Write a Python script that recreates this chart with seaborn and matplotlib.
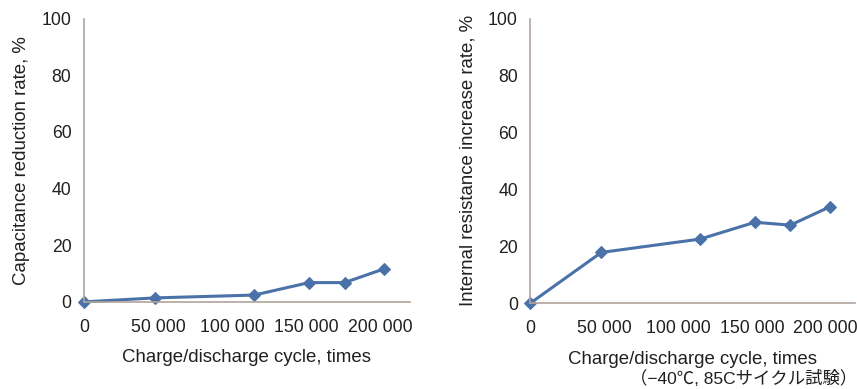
import pandas as pd
import matplotlib.pyplot as plt
import seaborn as sns

# Data
cycles = [0, 48000, 115000, 152000, 176000, 203000]
capacitance_reduction = [0, 1.4, 2.4, 6.8, 6.8, 11.7]
resistance_increase = [0, 17.8, 22.5, 28.4, 27.4, 33.9]
x_ticks = [0, 50000, 100000, 150000, 200000]
x_tick_labels = ['0', '50 000', '100 000', '150 000', '200 000']
y_ticks = [0, 20, 40, 60, 80, 100]

sns.set_style('white')
plt.rcParams['font.family'] = ['Liberation Sans', 'Noto Sans CJK JP', 'DejaVu Sans']

line_color = '#4a72a8'
spine_color = '#b0a49c'
text_color = '#231f20'

df_cap = pd.DataFrame({'cycle': cycles, 'value': capacitance_reduction})
df_res = pd.DataFrame({'cycle': cycles, 'value': resistance_increase})

fig = plt.figure(figsize=(8.57, 3.89), dpi=100)
ax1 = fig.add_axes([0.098, 0.224, 0.380, 0.728])
ax2 = fig.add_axes([0.619, 0.221, 0.379, 0.731])

panels = [
    (ax1, df_cap, 'Capacitance reduction rate, %'),
    (ax2, df_res, 'Internal resistance increase rate, %'),
]

for ax, df, ylabel in panels:
    sns.lineplot(data=df, x='cycle', y='value', ax=ax, color=line_color,
                 linewidth=2.2, marker='D', markersize=6,
                 markeredgecolor=line_color, clip_on=False)
    ax.set_xlim(0, 220000)
    ax.set_ylim(0, 100)
    ax.set_xticks(x_ticks)
    ax.set_xticklabels(x_tick_labels)
    ax.set_yticks(y_ticks)
    ax.set_xlabel('Charge/discharge cycle, times', fontsize=13.4,
                  color=text_color, labelpad=10)
    ax.set_ylabel(ylabel, fontsize=13.4, color=text_color, labelpad=8)
    ax.tick_params(axis='both', labelsize=12.7, colors=text_color,
                   length=4, width=1, direction='out')
    ax.tick_params(axis='x', pad=8)
    ax.tick_params(axis='y', pad=5)
    ax.tick_params(axis='both', color=spine_color)
    for side in ['top', 'right']:
        ax.spines[side].set_visible(False)
    for side in ['left', 'bottom']:
        ax.spines[side].set_color(spine_color)
        ax.spines[side].set_linewidth(1.2)
    ax.set_facecolor('white')

fig.text(1.0, 0.005, '（−40℃, 85Cサイクル試験）', ha='right', va='bottom',
         fontsize=12.5, color=text_color,
         family=['Liberation Sans', 'Noto Sans CJK JP', 'DejaVu Sans'])

fig.savefig('out.png', dpi=100)
